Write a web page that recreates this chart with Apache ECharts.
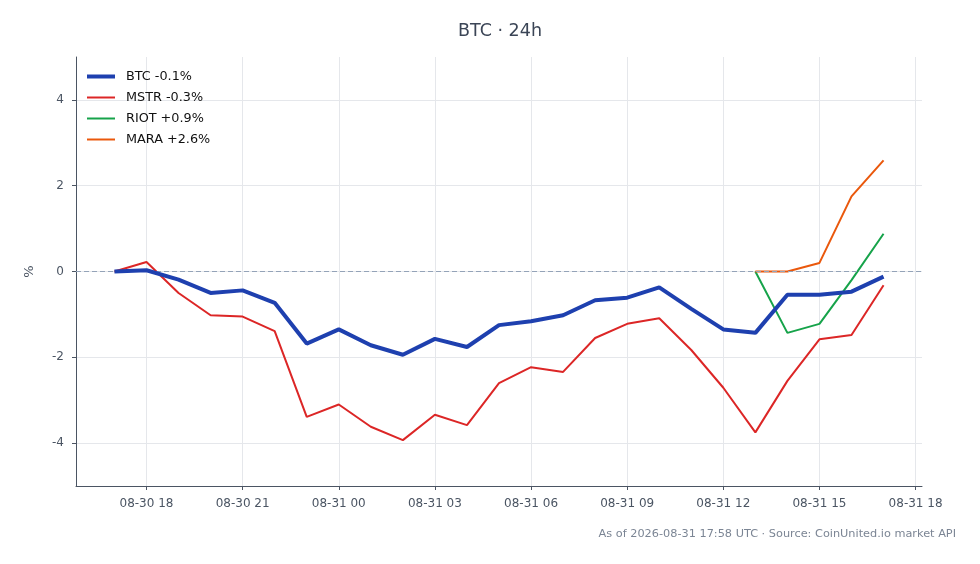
<!DOCTYPE html>
<html>
<head>
<meta charset="utf-8">
<script src="https://cdn.jsdelivr.net/npm/echarts@6/dist/echarts.min.js"></script>
<style>
html,body{margin:0;padding:0;background:#fff;}
#chart{width:980px;height:564px;}
</style>
</head>
<body>
<div id="chart"></div>
<script>
const times = [
  '2026-08-30T17:00:00Z','2026-08-30T18:00:00Z','2026-08-30T19:00:00Z','2026-08-30T20:00:00Z',
  '2026-08-30T21:00:00Z','2026-08-30T22:00:00Z','2026-08-30T23:00:00Z','2026-08-31T00:00:00Z',
  '2026-08-31T01:00:00Z','2026-08-31T02:00:00Z','2026-08-31T03:00:00Z','2026-08-31T04:00:00Z',
  '2026-08-31T05:00:00Z','2026-08-31T06:00:00Z','2026-08-31T07:00:00Z','2026-08-31T08:00:00Z',
  '2026-08-31T09:00:00Z','2026-08-31T10:00:00Z','2026-08-31T11:00:00Z','2026-08-31T12:00:00Z',
  '2026-08-31T13:00:00Z','2026-08-31T14:00:00Z','2026-08-31T15:00:00Z','2026-08-31T16:00:00Z',
  '2026-08-31T17:00:00Z'
];
const btc  = [0, 0.03, -0.19, -0.50, -0.44, -0.73, -1.68, -1.35, -1.72, -1.94, -1.57, -1.76, -1.25, -1.16, -1.02, -0.67, -0.61, -0.37, -0.87, -1.35, -1.43, -0.54, -0.54, -0.47, -0.12];
const mstr = [0, 0.22, -0.50, -1.02, -1.05, -1.39, -3.39, -3.10, -3.62, -3.93, -3.34, -3.58, -2.60, -2.23, -2.34, -1.55, -1.22, -1.09, -1.83, -2.71, -3.75, -2.55, -1.58, -1.48, -0.32];
const riot = [null, null, null, null, null, null, null, null, null, null, null, null, null, null, null, null, null, null, null, null, 0, -1.43, -1.22, -0.20, 0.88];
const mara = [null, null, null, null, null, null, null, null, null, null, null, null, null, null, null, null, null, null, null, null, 0, 0, 0.20, 1.75, 2.59];
const legendNames = ['BTC -0.1%', 'MSTR -0.3%', 'RIOT +0.9%', 'MARA +2.6%'];
const xTicks = ['2026-08-30T18:00:00Z','2026-08-30T21:00:00Z','2026-08-31T00:00:00Z','2026-08-31T03:00:00Z',
  '2026-08-31T06:00:00Z','2026-08-31T09:00:00Z','2026-08-31T12:00:00Z','2026-08-31T15:00:00Z','2026-08-31T18:00:00Z'];
const yTicks = [-4, -2, 0, 2, 4];
const xMin = '2026-08-30T15:48:00Z';
const xMax = '2026-08-31T18:12:00Z';
const titleText = 'BTC · 24h';
const footText = 'As of 2026-08-31 17:58 UTC · Source: CoinUnited.io market API';

const colors = ['#1e40af', '#dc2626', '#16a34a', '#ea580c'];
const widths = [4, 2, 2, 2];
const font = 'DejaVu Sans, sans-serif';
const axisColor = '#4b5563';
const gridColor = '#e5e7eb';

function pad(n){ return (n < 10 ? '0' : '') + n; }
function fmt(v){
  const d = new Date(v);
  return pad(d.getUTCMonth() + 1) + '-' + pad(d.getUTCDate()) + ' ' + pad(d.getUTCHours());
}
const ts = s => new Date(s).getTime();

const seriesData = [btc, mstr, riot, mara];
const series = seriesData.map((arr, k) => ({
  name: legendNames[k],
  type: 'line',
  data: arr.map((v, i) => [ts(times[i]), v]),
  showSymbol: false,
  symbol: 'none',
  lineStyle: { color: colors[k], width: widths[k] },
  itemStyle: { color: colors[k] },
  z: k === 0 ? 5 : 3,
  animation: false
}));
series[0].markLine = {
  silent: true,
  symbol: 'none',
  label: { show: false },
  lineStyle: { color: '#94a3b8', type: [5, 3], width: 1 },
  data: [{ yAxis: 0 }],
  animation: false
};

const chart = echarts.init(document.getElementById('chart'));
chart.setOption({
  backgroundColor: '#fff',
  animation: false,
  textStyle: { fontFamily: font },
  grid: { left: 76, right: 58, top: 57, bottom: 78, containLabel: false },
  legend: {
    orient: 'vertical',
    left: 82, top: 65,
    itemWidth: 28, itemHeight: 14, itemGap: 8,
    textStyle: { color: '#111', fontSize: 12.8, fontFamily: font, padding: [0, 0, 0, 6] },
    data: legendNames.map((n, k) => ({
      name: n,
      icon: k === 0 ? 'path://M0,0H28V4H0Z' : 'path://M0,0H28V2H0Z',
      itemStyle: { color: colors[k] }
    }))
  },
  xAxis: {
    type: 'value',
    min: ts(xMin), max: ts(xMax),
    axisLine: { show: true, onZero: false, lineStyle: { color: axisColor, width: 1 } },
    axisTick: { show: true, length: 4, lineStyle: { color: axisColor }, customValues: xTicks.map(ts) },
    axisLabel: { color: axisColor, fontSize: 12, margin: 12, customValues: xTicks.map(ts), formatter: fmt, hideOverlap: false },
    splitLine: { show: true, lineStyle: { color: gridColor, width: 1 } }
  },
  yAxis: {
    type: 'value',
    min: -5, max: 5,
    name: '%', nameLocation: 'middle', nameGap: 40, nameRotate: 90,
    nameTextStyle: { color: axisColor, fontSize: 13 },
    axisLine: { show: true, onZero: false, lineStyle: { color: axisColor, width: 1 } },
    axisTick: { show: true, length: 4, lineStyle: { color: axisColor }, customValues: yTicks },
    axisLabel: { color: axisColor, fontSize: 12, margin: 12, customValues: yTicks },
    splitLine: { show: true, lineStyle: { color: gridColor, width: 1 } }
  },
  graphic: [
    { type: 'text', x: 500, y: 31, style: { text: titleText, fill: '#3b4556', font: '17.5px ' + font, textAlign: 'center', textVerticalAlign: 'middle' } },
    { type: 'text', x: 956, y: 534, style: { text: footText, fill: '#7b8594', font: '11.3px ' + font, textAlign: 'right', textVerticalAlign: 'middle' } }
  ],
  series: series
});
</script>
</body>
</html>
